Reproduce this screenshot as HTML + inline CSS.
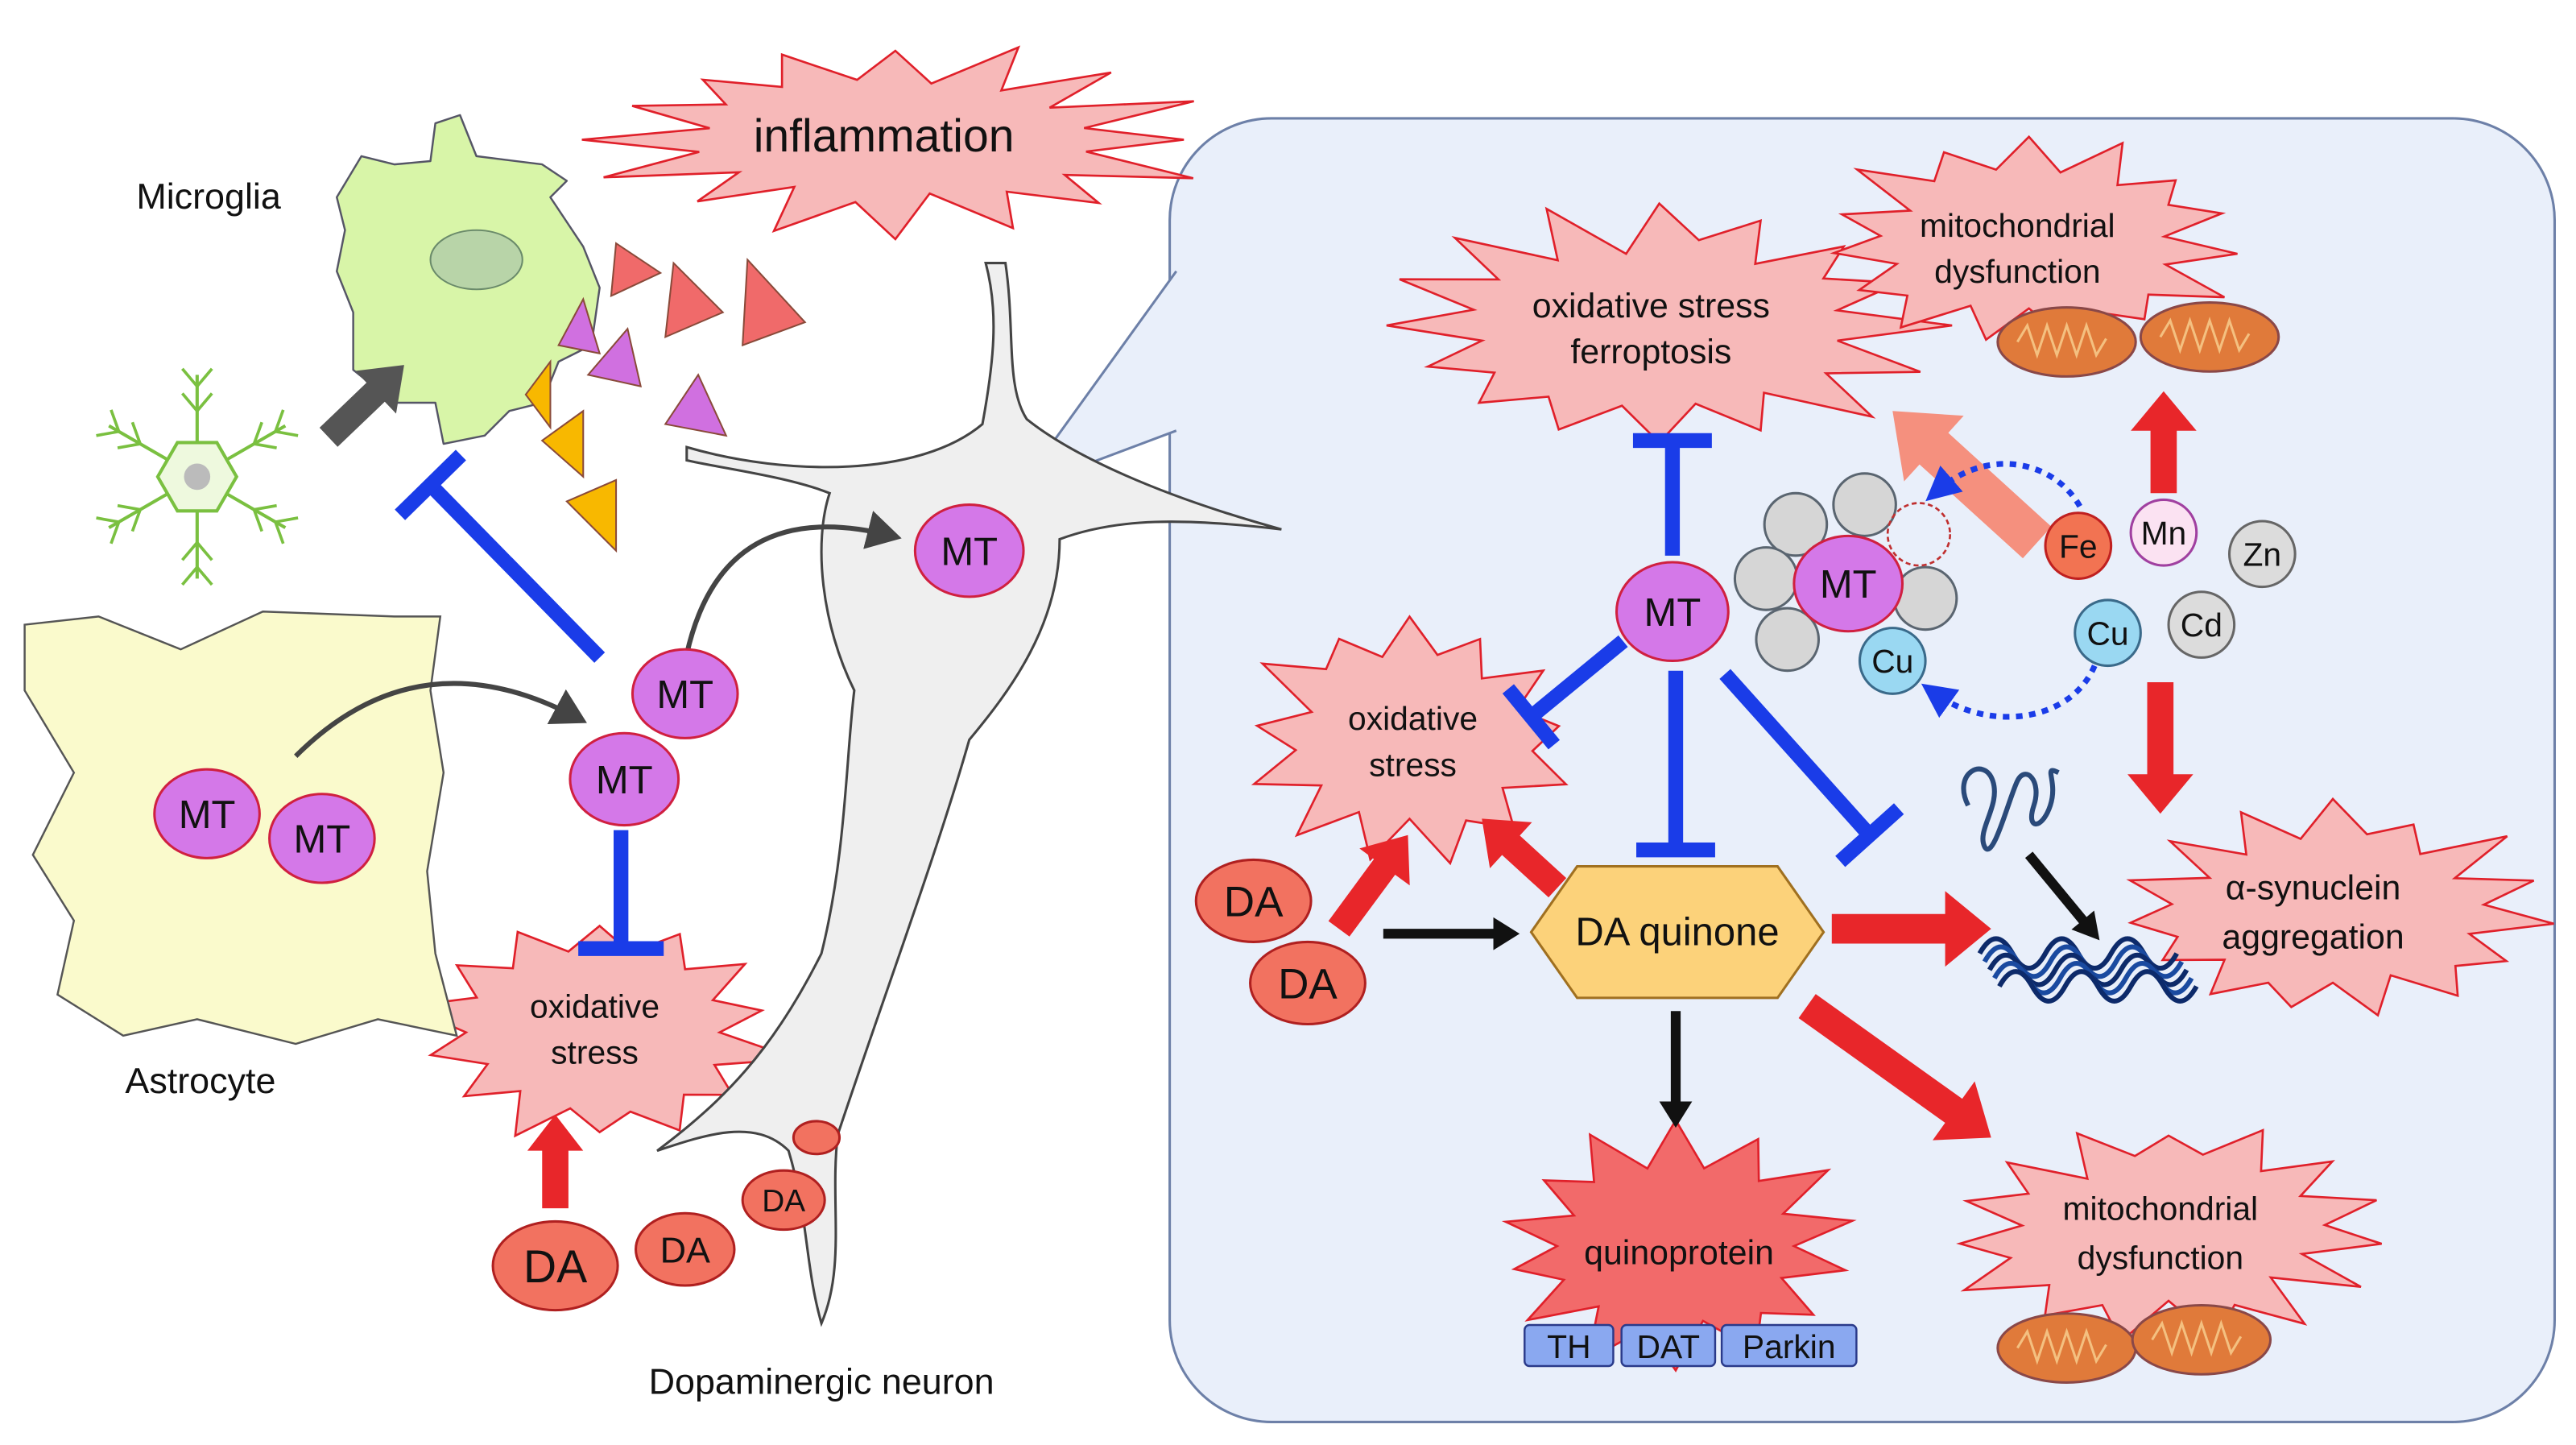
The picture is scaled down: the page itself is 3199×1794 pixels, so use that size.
<!DOCTYPE html>
<html><head><meta charset="utf-8"><style>
html,body{margin:0;padding:0;background:#fff}
svg{display:block}
text{font-family:"Liberation Sans",Arial,sans-serif;fill:#111}
</style></head><body>
<svg id="s" width="3199" height="1794" viewBox="0 0 1568 879" preserveAspectRatio="none" xmlns="http://www.w3.org/2000/svg">
<defs>
<marker id="ah" markerWidth="8" markerHeight="8" refX="5" refY="4" orient="auto" markerUnits="strokeWidth"><path d="M0,0 L7,4 L0,8 Z" fill="#444"/></marker>
<marker id="bh" markerWidth="6" markerHeight="6" refX="3" refY="3" orient="auto" markerUnits="strokeWidth"><path d="M0,0 L6,3 L0,6 Z" fill="#1a3ce8"/></marker>
</defs>
<rect width="1568" height="879" fill="#fff"/>
<rect x="712" y="72" width="843" height="793" rx="62" fill="#e9effa" stroke="#6d80a8" stroke-width="1.5"/>
<polygon points="620,298 716,165 716,262" fill="#e9effa"/>
<polyline points="716,165 620,298 716,262" fill="none" stroke="#6d80a8" stroke-width="1.5"/>
<g id="bg"></g>
<path d="M418,272 C480,290 560,290 598,258 C605,220 608,190 600,160 L612,160 C618,200 612,235 625,255 C650,275 700,300 780,322 C720,315 680,315 645,328 C645,380 615,420 590,450 C570,520 540,600 510,690 C505,730 515,770 500,805 C490,770 492,740 480,700 C460,680 430,690 400,700 C440,670 470,640 500,580 C515,520 515,460 520,420 C500,380 495,330 505,300 C480,290 440,285 418,280 Z" fill="#efefef" stroke="#444" stroke-width="1.5"/>
<path d="M205,120 L220,95 L240,100 L262,98 L265,75 L280,70 L290,95 L330,100 L345,110 L335,120 L355,150 L365,175 L360,210 L340,220 L330,245 L310,250 L295,265 L270,270 L265,245 L240,245 L215,225 L215,190 L205,165 L210,140 Z" fill="#d8f5a8" stroke="#556" stroke-width="1.2" stroke-linejoin="round"/>
<ellipse cx="290" cy="158" rx="28" ry="18" fill="#b8d4a8" stroke="#6a8a6a"/>
<path d="M15,380 L60,375 L110,395 L160,372 L240,375 L268,375 L262,420 L270,470 L260,530 L265,580 L278,630 L230,620 L180,635 L120,620 L75,630 L35,605 L45,560 L20,520 L45,470 L15,420 Z" fill="#fafacc" stroke="#555" stroke-width="1.2"/>
<g id="fg"></g>
<text x="127" y="127" font-size="22" text-anchor="middle">Microglia</text>
<text x="122" y="665" font-size="22" text-anchor="middle">Astrocyte</text>
<text x="500" y="848" font-size="22" text-anchor="middle">Dopaminergic neuron</text>
<text x="538" y="92" font-size="28" text-anchor="middle">inflammation</text>
<text x="362" y="619" font-size="20" text-anchor="middle">oxidative</text>
<text x="362" y="647" font-size="20" text-anchor="middle">stress</text>
<text x="860" y="444" font-size="20" text-anchor="middle">oxidative</text>
<text x="860" y="472" font-size="20" text-anchor="middle">stress</text>
<text x="1005" y="193" font-size="21" text-anchor="middle">oxidative stress</text>
<text x="1005" y="221" font-size="21" text-anchor="middle">ferroptosis</text>
<text x="1228" y="144" font-size="20" text-anchor="middle">mitochondrial</text>
<text x="1228" y="172" font-size="20" text-anchor="middle">dysfunction</text>
<text x="1408" y="547" font-size="21" text-anchor="middle">α-synuclein</text>
<text x="1408" y="577" font-size="21" text-anchor="middle">aggregation</text>
<text x="1022" y="769" font-size="21" text-anchor="middle">quinoprotein</text>
<text x="1315" y="742" font-size="20" text-anchor="middle">mitochondrial</text>
<text x="1315" y="772" font-size="20" text-anchor="middle">dysfunction</text>
<text x="1021" y="575" font-size="24" text-anchor="middle">DA quinone</text>
</svg>
<script>
var NS="http://www.w3.org/2000/svg";
function el(p,t,a,txt){var e=document.createElementNS(NS,t);for(var k in a)e.setAttribute(k,a[k]);if(txt!=null)e.textContent=txt;document.getElementById(p).appendChild(e);return e;}
function star(cx,cy,rx,ry,n,inr,fill,seed){var pts=[];var s=seed||1;function r(){s=(s*9301+49297)%233280;return s/233280;}
for(var i=0;i<n*2;i++){var a=Math.PI*i/n-Math.PI/2;var k=i%2?inr*(0.9+0.2*r()):(0.9+0.2*r());pts.push((cx+Math.cos(a)*rx*k).toFixed(1)+","+(cy+Math.sin(a)*ry*k).toFixed(1));}
el("bg","polygon",{points:pts.join(" "),fill:fill||"#f7b9b9",stroke:"#e0202a","stroke-width":1.3,"stroke-linejoin":"miter"});}
function arrow(g,x1,y1,x2,y2,w,hw,hl,c,op){var dx=x2-x1,dy=y2-y1,L=Math.hypot(dx,dy),ux=dx/L,uy=dy/L,px=-uy,py=ux;var bx=x2-ux*hl,by=y2-uy*hl;
var P=[[x1+px*w/2,y1+py*w/2],[bx+px*w/2,by+py*w/2],[bx+px*hw/2,by+py*hw/2],[x2,y2],[bx-px*hw/2,by-py*hw/2],[bx-px*w/2,by-py*w/2],[x1-px*w/2,y1-py*w/2]];
el(g,"polygon",{points:P.map(function(p){return p[0].toFixed(1)+","+p[1].toFixed(1)}).join(" "),fill:c,opacity:op||1});}
function inhib(x1,y1,x2,y2,bl){var dx=x2-x1,dy=y2-y1,L=Math.hypot(dx,dy),px=-dy/L,py=dx/L;
el("fg","line",{x1:x1,y1:y1,x2:x2,y2:y2,stroke:"#1a3ce8","stroke-width":9});
el("fg","line",{x1:x2+px*bl,y1:y2+py*bl,x2:x2-px*bl,y2:y2-py*bl,stroke:"#1a3ce8","stroke-width":9});}
function ell(cx,cy,rx,ry,f,s,t,fs){el("fg","ellipse",{cx:cx,cy:cy,rx:rx,ry:ry,fill:f,stroke:s,"stroke-width":1.5});if(t)el("fg","text",{x:cx,y:cy+fs*0.36,"font-size":fs,"text-anchor":"middle"},t);}
star(545,85,180,56,16,0.66,null,3);
star(365,628,112,66,14,0.7,null,5);
star(858,450,100,75,13,0.7,null,7);
star(1010,198,168,72,16,0.68,null,11);
star(1235,148,130,62,15,0.7,null,13);
star(1420,555,132,64,15,0.7,null,17);
star(1020,758,112,70,14,0.68,"#f26a6a",19);
star(1320,750,132,64,15,0.7,null,23);
function tri(p,c){el("fg","polygon",{points:p,fill:c,stroke:"#8a4a3a","stroke-width":1});}
tri("375,148 402,166 372,180","#f06a6a");tri("410,160 440,190 405,205","#f06a6a");tri("455,158 490,196 452,210","#f06a6a");
tri("355,182 365,215 340,210","#d070e0");tri("382,200 390,235 358,228","#d070e0");tri("425,228 442,265 405,258","#d070e0");
tri("335,220 320,240 335,260","#f8b800");tri("355,250 330,268 355,290","#f8b800");tri("375,292 345,305 375,335","#f8b800");
(function(){var cx=120,cy=290;for(var i=0;i<6;i++){var a=Math.PI/3*i+Math.PI/6;var ex=cx+Math.cos(a)*62,ey=cy+Math.sin(a)*62;
el("fg","line",{x1:cx,y1:cy,x2:ex,y2:ey,stroke:"#7ac040","stroke-width":2});
for(var j=1;j<=2;j++){var mx=cx+Math.cos(a)*(25+j*15),my=cy+Math.sin(a)*(25+j*15);
el("fg","line",{x1:mx,y1:my,x2:mx+Math.cos(a+0.7)*14,y2:my+Math.sin(a+0.7)*14,stroke:"#7ac040","stroke-width":1.8});
el("fg","line",{x1:mx,y1:my,x2:mx+Math.cos(a-0.7)*14,y2:my+Math.sin(a-0.7)*14,stroke:"#7ac040","stroke-width":1.8});}}
var h=[];for(var i=0;i<6;i++){var a=Math.PI/3*i;h.push((cx+Math.cos(a)*24)+","+(cy+Math.sin(a)*24));}
el("fg","polygon",{points:h.join(" "),fill:"#eef9de",stroke:"#7ac040","stroke-width":2});
el("fg","circle",{cx:cx,cy:cy,r:8,fill:"#bbb"});})();
arrow("fg",200,266,246,222,16,36,24,"#555");
el("fg","path",{d:"M180,460 Q255,385 352,437",fill:"none",stroke:"#444","stroke-width":3,"marker-end":"url(#ah)"});
el("fg","path",{d:"M418,398 Q440,300 543,326",fill:"none",stroke:"#444","stroke-width":3,"marker-end":"url(#ah)"});
inhib(365,400,262,295,26);
inhib(378,505,378,577,26);
inhib(1018,338,1018,268,24);
inhib(1020,408,1020,517,24);
inhib(988,390,932,436,22);
inhib(1050,410,1138,508,24);
var R="#e8262a";
arrow("fg",338,735,338,678,16,34,22,R);
arrow("fg",1317,300,1317,238,16,40,24,R);
arrow("fg",1315,415,1315,495,16,40,24,R);
arrow("fg",1115,565,1212,565,18,46,28,R);
arrow("fg",1100,612,1212,692,18,44,28,R);
arrow("fg",815,565,857,508,16,38,24,R);
arrow("fg",948,540,902,498,16,38,24,R);
arrow("fg",1240,330,1152,250,26,54,34,"#f5907e");
arrow("fg",842,568,925,568,6,20,16,"#111");
arrow("fg",1020,615,1020,686,6,20,16,"#111");
arrow("fg",1235,520,1278,572,6,18,16,"#111");
el("fg","path",{d:"M1266,308 C1250,280 1210,272 1180,298",fill:"none",stroke:"#1a3ce8","stroke-width":3.5,"stroke-dasharray":"4,4","marker-end":"url(#bh)"});
el("fg","path",{d:"M1275,405 C1260,440 1210,445 1178,422",fill:"none",stroke:"#1a3ce8","stroke-width":3.5,"stroke-dasharray":"4,4","marker-end":"url(#bh)"});
el("fg","polygon",{points:"932,567 960,527 1082,527 1110,567 1082,607 960,607",fill:"#fcd27a",stroke:"#a07020","stroke-width":1.5});
[[1093,319],[1135,307],[1075,352],[1088,389],[1172,364]].forEach(function(p){ell(p[0],p[1],19,19,"#d6d6d6","#5a6570");});
el("fg","circle",{cx:1168,cy:325,r:19,fill:"none",stroke:"#c03030","stroke-width":1.3,"stroke-dasharray":"3,2"});
var MF="#d478e8",MS="#d02040";
ell(1125,355,33,29,MF,MS,"MT",24);
ell(1152,402,20,20,"#9ad8f2","#3a6a8a","Cu",20);
ell(1018,372,34,30,MF,MS,"MT",24);
ell(590,335,33,28,MF,MS,"MT",24);
ell(417,422,32,27,MF,MS,"MT",24);
ell(380,474,33,28,MF,MS,"MT",24);
ell(126,495,32,27,MF,MS,"MT",24);
ell(196,510,32,27,MF,MS,"MT",24);
ell(1265,332,20,20,"#f27352","#c02020","Fe",20);
ell(1317,324,20,20,"#fbe2f2","#a040a0","Mn",20);
ell(1377,337,20,20,"#dcdcdc","#666","Zn",20);
ell(1283,385,20,20,"#9ad8f2","#3a6a8a","Cu",20);
ell(1340,380,20,20,"#dcdcdc","#666","Cd",20);
var DF="#f27260",DS="#b02020";
ell(763,548,35,25,DF,DS,"DA",26);
ell(796,598,35,25,DF,DS,"DA",26);
ell(338,770,38,27,DF,DS,"DA",28);
ell(417,760,30,22,DF,DS,"DA",22);
ell(477,730,25,18,DF,DS,"DA",19);
ell(497,692,14,10,DF,DS,null,0);
[[1258,208],[1345,205],[1258,820],[1340,815]].forEach(function(p){ell(p[0],p[1],42,21,"#e07a3a","#8a4848");
el("fg","path",{d:"M"+(p[0]-30)+","+p[1]+" l6,-10 l6,18 l6,-18 l6,18 l6,-18 l6,18 l6,-18 l6,18 l6,-10",fill:"none",stroke:"#f4c080","stroke-width":1.5});});
[["TH",928,982],["DAT",987,1044],["Parkin",1048,1130]].forEach(function(t){el("fg","rect",{x:t[1],y:806,width:t[2]-t[1],height:25,rx:3,fill:"#8aa8f0",stroke:"#2a3a8a","stroke-width":1.2});
el("fg","text",{x:(t[1]+t[2])/2,y:826,"font-size":20,"text-anchor":"middle"},t[0]);});
el("fg","path",{d:"M1198,490 c-10,-20 10,-30 15,-15 c5,15 -10,30 -5,40 c5,10 15,-30 20,-40 c5,-10 15,0 10,15 c-5,15 5,15 10,0 c5,-15 -5,-25 5,-20",fill:"none",stroke:"#2a4a7a","stroke-width":3});
for(var i=0;i<5;i++){var y=580+i*5;el("fg","path",{d:"M"+(1205+i*3)+","+y+" q10,-18 20,0 t20,0 t20,0 t20,0 t20,0 t20,0",fill:"none",stroke:i%2?"#1a4aa0":"#0d2a6a","stroke-width":3});}
</script>
</body></html>
